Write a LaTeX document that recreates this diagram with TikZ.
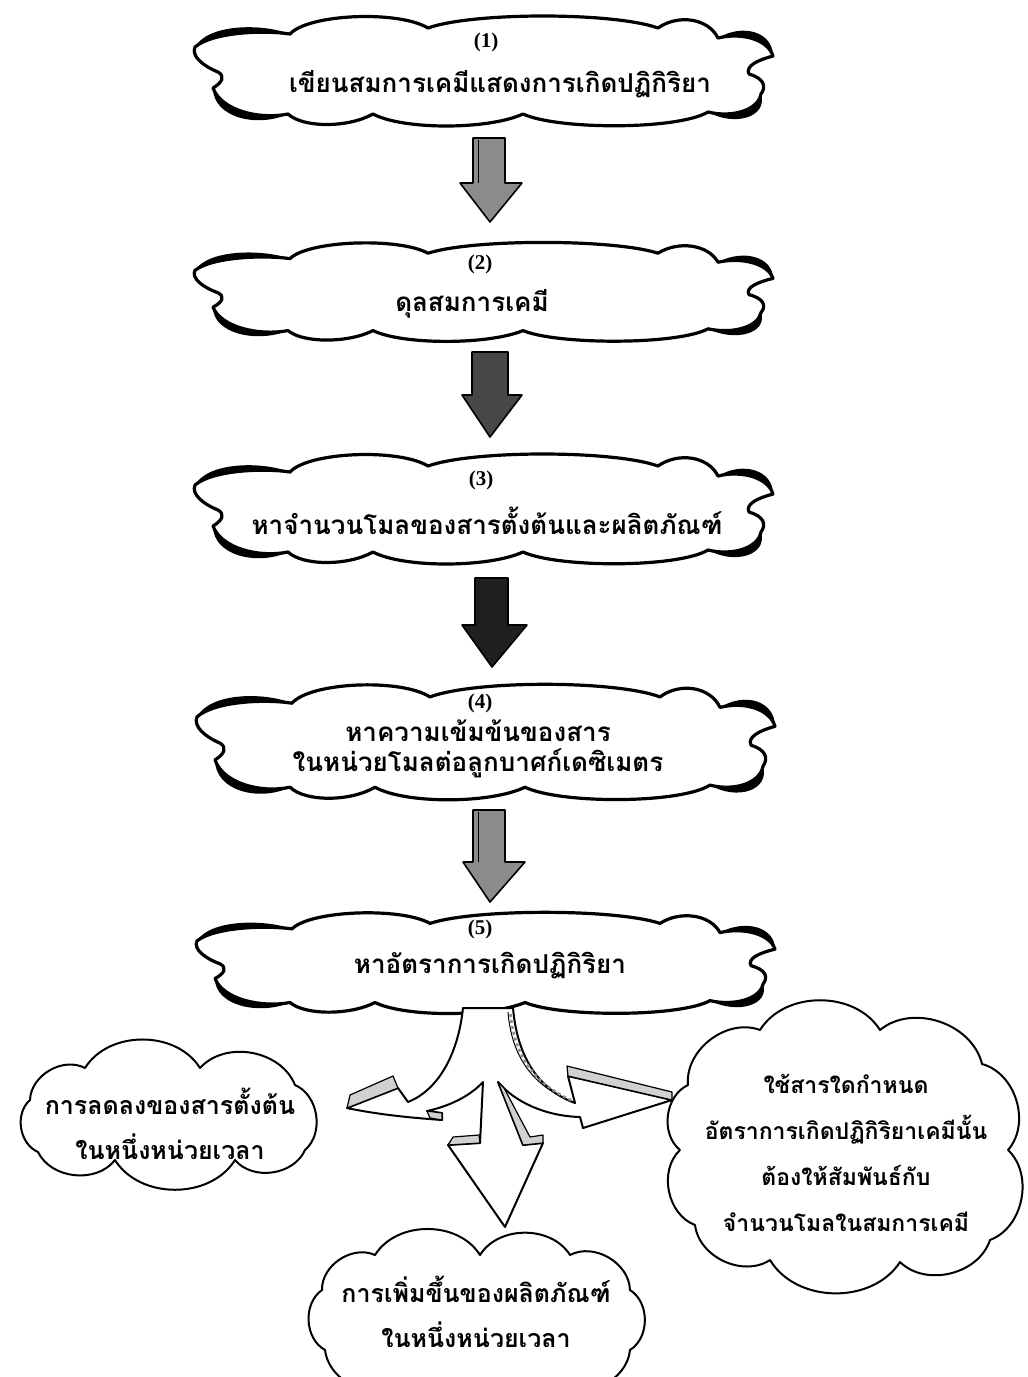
\documentclass[tikz,border=0pt]{standalone}
\usepackage{fontspec}
\setmainfont{Liberation Serif}
\newfontfamily\thaifont[Script=Thai]{Loma}

\tikzset{
  cloudline/.style={draw=black, line width=3.2pt, fill=white, line join=round},
  lobe/.style={fill=black},
  thaitext/.style={font=\thaifont\bfseries\fontsize{26}{30}\selectfont, align=center, inner sep=0pt},
  sidetext/.style={font=\thaifont\bfseries\fontsize{25}{45}\selectfont, align=center, inner sep=0pt},
  smallsidetext/.style={font=\thaifont\bfseries\fontsize{23}{46}\selectfont, align=center, inner sep=0pt},
  numlabel/.style={font=\bfseries\fontsize{21}{24}\selectfont, inner sep=0pt},
  sidecloud/.style={draw=black, line width=2pt, fill=white, line join=round},
  puff/.style={bend left=58},
  lightarrow/.style={draw=black, line width=1.6pt, fill=black!45, line join=round},
  darkarrow/.style={draw=black, line width=1.6pt, fill=black!72, line join=round},
  darkerarrow/.style={draw=black, line width=1.6pt, fill=black!88, line join=round},
  band/.style={draw=black, line width=2pt, fill=white, line join=round},
  ribbon/.style={draw=black, line width=1.2pt, fill=black!18, line join=round},
  pics/bigcloud/.style={code={
    \path[cloudline] (-193,-36)
      .. controls (-175,-56) and (-85,-60) .. (-55,-42)
      .. controls (-10,-58) and (130,-58) .. (175,-42)
      .. controls (195,-56) and (225,-52) .. (235,-32)
      .. controls (260,-38) and (285,-30) .. (290,-14)
      .. controls (275,-10) and (262,-4) .. (266,4)
      .. controls (280,8) and (284,16) .. (278,24)
      .. controls (275,40) and (250,48) .. (225,42)
      .. controls (195,60) and (75,60) .. (40,44)
      .. controls (5,60) and (-80,60) .. (-110,44)
      .. controls (-135,58) and (-180,58) .. (-195,44)
      .. controls (-225,50) and (-262,40) .. (-270,18)
      .. controls (-260,12) and (-258,6) .. (-265,2)
      .. controls (-280,-4) and (-292,-14) .. (-288,-23)
      .. controls (-270,-38) and (-220,-40) .. (-193,-36) -- cycle;
    \path[lobe] (-288,-23) .. controls (-270,-38) and (-220,-40) .. (-193,-36)
      .. controls (-222,-47) and (-275,-46) .. (-288,-23) -- cycle;
    \path[lobe] (-195,44) .. controls (-225,50) and (-262,40) .. (-270,18)
      .. controls (-270,48) and (-225,58) .. (-195,44) -- cycle;
    \path[lobe] (235,-32) .. controls (260,-38) and (285,-30) .. (290,-14)
      .. controls (290,-38) and (260,-47) .. (235,-32) -- cycle;
    \path[lobe] (278,24) .. controls (275,40) and (250,48) .. (225,42)
      .. controls (252,57) and (285,47) .. (278,24) -- cycle;
  }},
}

\begin{document}
\begin{tikzpicture}[x=1pt,y=-1pt]
\useasboundingbox (0,0) rectangle (1028,1377);
\clip (0,0) rectangle (1028,1377);
\fill[white] (0,0) rectangle (1028,1377);

% main clouds
\pic at (483,70) {bigcloud};
\node[numlabel] (n1) at (486,42) {(1)};
\node[thaitext] (t1) at (500,84) {เขียนสมการเคมีแสดงการเกิดปฏิกิริยา};

\pic[yscale=0.9] at (483,291) {bigcloud};
\node[numlabel] (n2) at (480,264) {(2)};
\node[thaitext] (t2) at (472,304) {ดุลสมการเคมี};

\pic[yscale=1.0] at (483,508) {bigcloud};
\node[numlabel] (n3) at (481,480) {(3)};
\node[thaitext] (t3) at (487,521) {หาจำนวนโมลของสารตั้งต้นและผลิตภัณฑ์};

\pic[yscale=1.05] at (485,741) {bigcloud};
\node[numlabel] (n4) at (480,703) {(4)};
\node[thaitext] (t4) at (478,749) {หาความเข้มข้นของสาร\\ในหน่วยโมลต่อลูกบาศก์เดซิเมตร};

\pic[yscale=0.92] at (485,962) {bigcloud};
\node[numlabel] (n5) at (480,929) {(5)};
\node[thaitext] (t5) at (490,966) {หาอัตราการเกิดปฏิกิริยา};

% straight block arrows
\path[lightarrow] (473,138) -- (505,138) -- (505,183) -- (522,183) -- (490,222) -- (460,183) -- (473,183) -- cycle;
\draw[line width=1pt] (478,140) -- (478,183);
\path[darkarrow] (472,352) -- (508,352) -- (508,395) -- (522,395) -- (490,437) -- (462,395) -- (472,395) -- cycle;
\path[darkerarrow] (475,578) -- (508,578) -- (508,625) -- (527,625) -- (492,667) -- (462,625) -- (475,625) -- cycle;
\path[lightarrow] (473,810) -- (505,810) -- (505,862) -- (525,862) -- (490,902) -- (463,862) -- (473,862) -- cycle;
\draw[line width=1pt] (478,812) -- (478,862);

% three-way curved arrow
\path[band] (463,1008)
  .. controls (458,1055) and (438,1090) .. (408,1102)
  -- (398,1088) -- (347,1108)
  .. controls (380,1115) and (415,1118) .. (442,1120)
  -- (442,1113) -- (427,1111)
  .. controls (450,1106) and (470,1096) .. (483,1082)
  -- (480,1143) -- (448,1145) -- (505,1227) -- (543,1143) -- (523,1145) -- (498,1082)
  .. controls (515,1102) and (545,1116) .. (580,1117)
  -- (583,1128) -- (672,1100) -- (568,1076) -- (575,1103)
  .. controls (545,1092) and (518,1065) .. (513,1008) -- cycle;
\path[ribbon] (347,1108) -- (350,1095) -- (393,1076) -- (398,1088) -- cycle;
\path[ribbon] (427,1111) -- (442,1113) -- (442,1120) -- (430,1118) -- cycle;
\path[ribbon] (448,1145) -- (453,1137) -- (479,1135) -- (480,1143) -- cycle;
\path[ribbon] (498,1082) -- (504,1088) -- (530,1137) -- (543,1135) -- (543,1143) -- (523,1145) -- cycle;
\path[ribbon] (568,1076) -- (567,1066) -- (672,1092) -- (672,1100) -- cycle;
\draw[line width=1pt] (508,1012) .. controls (512,1062) and (538,1088) .. (571,1101);
\draw[line width=2.5pt, black!45, dash pattern=on 3pt off 3pt] (510.5,1014) .. controls (515,1062) and (541,1087) .. (573,1101);

% side clouds
\path[sidecloud] (30,1100) to[puff] (85,1068) to[puff] (200,1068) to[puff] (295,1085)
  to[puff] (305,1150) to[puff] (235,1160) to[puff] (115,1160) to[puff] (38,1152) to[puff] cycle;
\node[sidetext] (lt) at (170,1124) {การลดลงของสารตั้งต้น\\ในหนึ่งหน่วยเวลา};

\path[sidecloud] (322,1290) to[puff] (375,1255) to[puff] (480,1255) to[puff] (570,1255)
  to[puff] (630,1290) to[puff] (630,1350) to[puff] (560,1385) to[puff] (400,1385)
  to[puff] (325,1350) to[puff] cycle;
\node[sidetext] (bt) at (476,1312) {การเพิ่มขึ้นของผลิตภัณฑ์\\ในหนึ่งหน่วยเวลา};

\path[sidecloud] (688,1085) to[puff] (760,1030) to[puff] (880,1030) to[puff] (982,1064)
  to[puff] (1008,1150) to[puff] (990,1240) to[puff] (900,1262) to[puff] (770,1260)
  to[puff] (695,1225) to[puff] (680,1150) to[puff] cycle;
\node[smallsidetext] (rt) at (846,1153) {ใช้สารใดกำหนด\\อัตราการเกิดปฏิกิริยาเคมีนั้น\\ต้องให้สัมพันธ์กับ\\จำนวนโมลในสมการเคมี};
\end{tikzpicture}
\end{document}
